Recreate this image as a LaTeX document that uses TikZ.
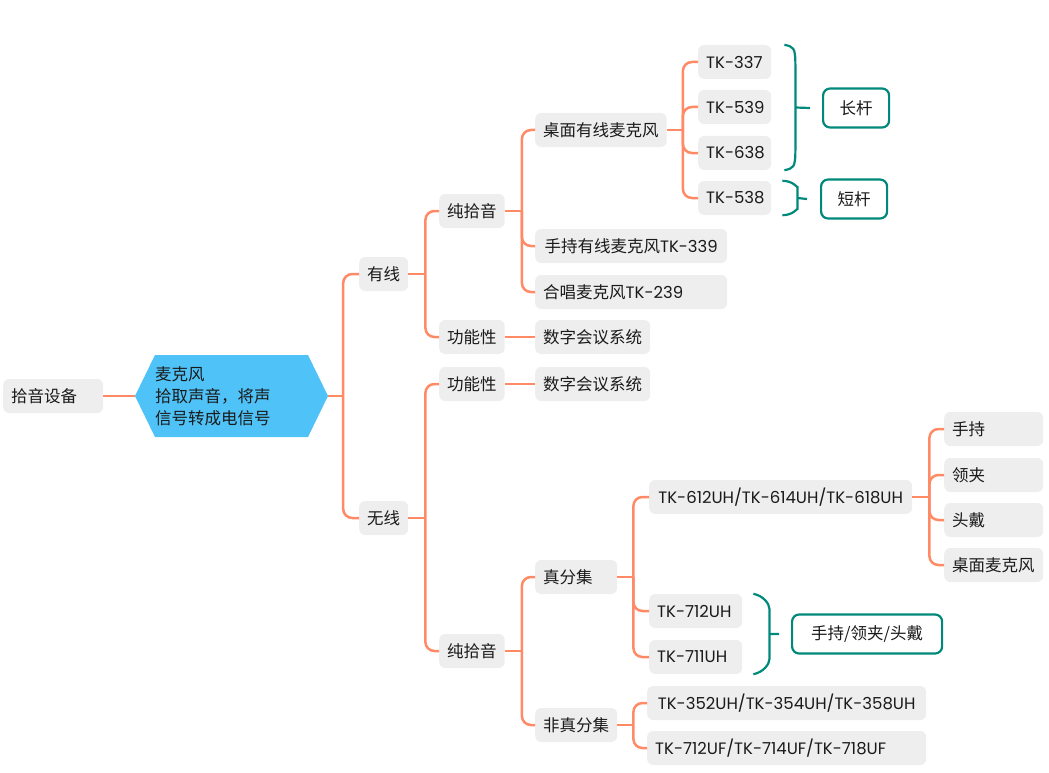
\documentclass[tikz,border=0pt]{standalone}
\usepackage{fontspec}
\setmainfont{Noto Sans CJK SC}
\newfontfamily\latin{Poppins}
\usetikzlibrary{calc}
\definecolor{boxgray}{HTML}{EEEEEE}
\definecolor{linecoral}{HTML}{FF8A65}
\definecolor{tealline}{HTML}{00897B}
\definecolor{micblue}{HTML}{4FC3F7}
\definecolor{textdark}{HTML}{1A1A1A}
\exhyphenpenalty=10000

\begin{document}
\begin{tikzpicture}[
  x=1pt, y=-1pt,
  every node/.style={text=textdark, font=\fontsize{16.5}{22}\selectfont},
  topic/.style={fill=boxgray, rounded corners=6pt, anchor=west, inner xsep=8pt, inner ysep=0pt, minimum height=34pt, align=left},
  groupbox/.style={draw=tealline, line width=2.2pt, rounded corners=7pt, fill=white, anchor=west, minimum height=39pt, inner xsep=0pt},
  conn/.style={draw=linecoral, line width=2.5pt, rounded corners=9pt},
  brace/.style={draw=tealline, line width=2.2pt, rounded corners=11pt},
]
  \useasboundingbox (0,0) rectangle (1049,773);

  % Root and microphone
  \node[topic, text width=84pt] (root) at (3,396) {拾音设备};
  \node[minimum width=193pt, minimum height=82pt, inner sep=0pt, text width=153pt, align=left,
    path picture={\fill[micblue] (path picture bounding box.west) -- ([xshift=20pt]path picture bounding box.north west)
      -- ([xshift=-20pt]path picture bounding box.north east) -- (path picture bounding box.east)
      -- ([xshift=-20pt]path picture bounding box.south east) -- ([xshift=20pt]path picture bounding box.south west) -- cycle;}]
    (mic) at (231.5,396) {麦克风\\拾取声音，将声\\信号转成电信号};

  % First level
  \node[topic, minimum width=47pt] (wired) at (359,274) {有线};
  \node[topic, minimum width=47pt] (wireless) at (359,518) {无线};

  % Wired branch
  \node[topic, minimum width=64pt] (wpure) at (439,211) {纯拾音};
  \node[topic, minimum width=64pt] (wfunc) at (439,337) {功能性};
  \node[topic, minimum width=114pt] (wconf) at (535,337) {数字会议系统};
  \node[topic, minimum width=131pt] (desk) at (535,130) {桌面有线麦克风};
  \node[topic, minimum width=192pt] (hand) at (535,246) {手持有线麦克风{\latin TK-339}};
  \node[topic, text width=176pt] (choir) at (535,292) {合唱麦克风{\latin TK-239}};
  \node[topic, text width=57pt] (tk337) at (698,62) {\latin TK-337};
  \node[topic, text width=57pt] (tk539) at (698,107) {\latin TK-539};
  \node[topic, text width=57pt] (tk638) at (698,153) {\latin TK-638};
  \node[topic, text width=57pt] (tk538) at (698,198) {\latin TK-538};
  \node[groupbox, minimum width=66pt] (longrod) at (822,108) {长杆};
  \node[groupbox, minimum width=66pt] (shortrod) at (820,199) {短杆};

  % Wireless branch
  \node[topic, minimum width=64pt] (lfunc) at (439,384) {功能性};
  \node[topic, minimum width=114pt] (lconf) at (535,384) {数字会议系统};
  \node[topic, minimum width=64pt] (lpure) at (439,651) {纯拾音};
  \node[topic, text width=66pt] (truediv) at (535,577) {真分集};
  \node[topic, text width=66pt] (falsediv) at (535,725) {非真分集};
  \node[topic, minimum width=263pt] (tk61x) at (649,497) {\latin TK-612UH/TK-614UH/TK-618UH};
  \node[topic, text width=77pt] (tk712uh) at (649,611) {\latin TK-712UH};
  \node[topic, text width=77pt] (tk711uh) at (649,657) {\latin TK-711UH};
  \node[groupbox, minimum width=150pt] (bodypack) at (791,634) {手持/领夹/头戴};
  \node[topic, text width=83pt] (handheld) at (944,429) {手持};
  \node[topic, text width=83pt] (lavalier) at (944,475) {领夹};
  \node[topic, text width=83pt] (headset) at (944,520) {头戴};
  \node[topic, text width=83pt] (deskmic) at (944,565) {桌面麦克风};
  \node[topic, minimum width=279pt] (tk35x) at (647,703) {\latin TK-352UH/TK-354UH/TK-358UH};
  \node[topic, text width=263pt] (tk71x) at (647,748) {\latin TK-712UF/TK-714UF/TK-718UF};

  % Junctions
  \coordinate (jmic) at ([xshift=15pt]mic.east);
  \coordinate (jwired) at ([xshift=17pt]wired.east);
  \coordinate (jwpure) at ([xshift=17pt]wpure.east);
  \coordinate (jdesk) at ([xshift=16pt]desk.east);
  \coordinate (jwireless) at ([xshift=17pt]wireless.east);
  \coordinate (jlpure) at ([xshift=17pt]lpure.east);
  \coordinate (jtrue) at ([xshift=16pt]truediv.east);
  \coordinate (jfalse) at ([xshift=16pt]falsediv.east);
  \coordinate (jtk61x) at ([xshift=17pt]tk61x.east);

  % Edges
  \draw[conn] (root) -- (mic);
  \draw[conn] (mic.east) -- (jmic);
  \draw[conn] (jmic) |- (wired.west);
  \draw[conn] (jmic) |- (wireless.west);
  \draw[conn] (wired.east) -- (jwired);
  \draw[conn] (jwired) |- (wpure.west);
  \draw[conn] (jwired) |- (wfunc.west);
  \draw[conn] (wfunc) -- (wconf);
  \draw[conn] (wpure.east) -- (jwpure);
  \draw[conn] (jwpure) |- (desk.west);
  \draw[conn] (jwpure) |- (hand.west);
  \draw[conn] (jwpure) |- (choir.west);
  \draw[conn] (desk.east) -- (jdesk);
  \draw[conn] (jdesk) |- (tk337.west);
  \draw[conn] (jdesk) |- (tk539.west);
  \draw[conn] (jdesk) |- (tk638.west);
  \draw[conn] (jdesk) |- (tk538.west);
  \draw[conn] (wireless.east) -- (jwireless);
  \draw[conn] (jwireless) |- (lfunc.west);
  \draw[conn] (jwireless) |- (lpure.west);
  \draw[conn] (lfunc) -- (lconf);
  \draw[conn] (lpure.east) -- (jlpure);
  \draw[conn] (jlpure) |- (truediv.west);
  \draw[conn] (jlpure) |- (falsediv.west);
  \draw[conn] (truediv.east) -- (jtrue);
  \draw[conn] (jtrue) |- (tk61x.west);
  \draw[conn] (jtrue) |- (tk712uh.west);
  \draw[conn] (jtrue) |- (tk711uh.west);
  \draw[conn] (falsediv.east) -- (jfalse);
  \draw[conn] (jfalse) |- (tk35x.west);
  \draw[conn] (jfalse) |- (tk71x.west);
  \draw[conn] (tk61x.east) -- (jtk61x);
  \draw[conn] (jtk61x) |- (handheld.west);
  \draw[conn] (jtk61x) |- (lavalier.west);
  \draw[conn] (jtk61x) |- (headset.west);
  \draw[conn] (jtk61x) |- (deskmic.west);

  % Braces
  \coordinate (b1t) at ([xshift=13pt]tk337.north east);
  \coordinate (b1b) at ([xshift=13pt]tk638.south east);
  \coordinate (b1m) at ($(b1t)!0.5!(b1b)+(11,0)$);
  \draw[brace] (b1t) .. controls +(9,2) and +(0,-30) .. ($(b1t)+(11,32)$) -- ($(b1b)+(11,-32)$) .. controls +(0,30) and +(9,-2) .. (b1b);
  \draw[brace] (b1m) -- ([xshift=-12pt]longrod.west);
  \coordinate (b2t) at ([xshift=11pt]tk538.north east);
  \coordinate (b2b) at ([xshift=11pt]tk538.south east);
  \coordinate (b2m) at ($(b2t)!0.5!(b2b)+(15,0)$);
  \draw[brace] (b2t) .. controls +(11,0) and +(0,-10) .. (b2m) .. controls +(0,10) and +(11,0) .. (b2b);
  \draw[brace] (b2m) -- ([xshift=-13pt]shortrod.west);
  \coordinate (b3t) at ([xshift=11pt]tk712uh.north east);
  \coordinate (b3b) at ([xshift=11pt]tk711uh.south east);
  \coordinate (b3m) at ($(b3t)!0.5!(b3b)+(16,0)$);
  \draw[brace] (b3t) .. controls +(10,2) and +(0,-16) .. ($(b3t)+(16,26)$) -- ($(b3b)+(16,-26)$) .. controls +(0,16) and +(10,-2) .. (b3b);
  \draw[brace] (b3m) -- ([xshift=-12pt]bodypack.west);
\end{tikzpicture}
\end{document}
